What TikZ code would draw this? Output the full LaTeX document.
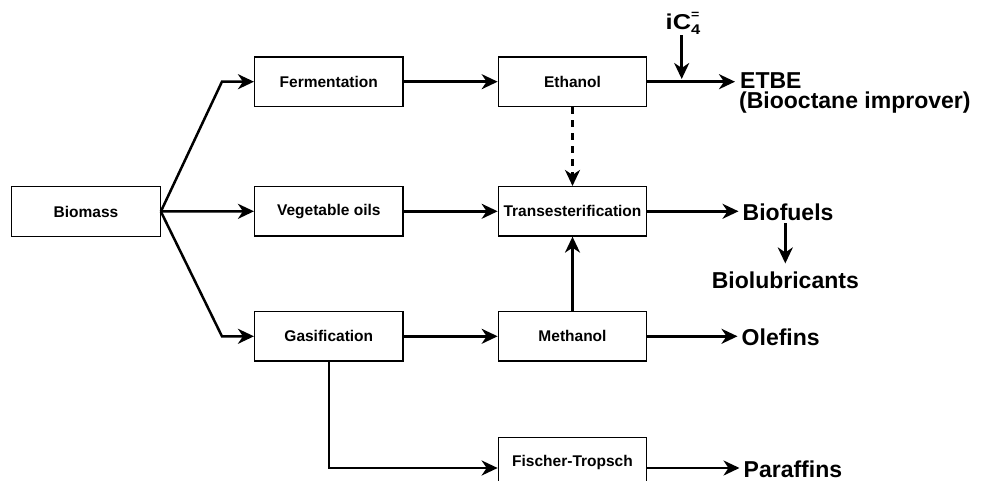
\documentclass[tikz,border=0pt]{standalone}
\usepackage{fontspec}
\setmainfont{Liberation Sans}
\newfontfamily\widefont[FakeStretch=1.18]{Liberation Sans}
\usetikzlibrary{arrows.meta}
\begin{document}
\begin{tikzpicture}[x=1pt,y=-1pt,
  box/.style={draw=black,line width=1.2pt,minimum width=148.5pt,minimum height=49.5pt,inner sep=0pt,font=\fontsize{15.5}{18}\selectfont\bfseries},
  lab/.style={inner xsep=4pt,inner ysep=0pt,anchor=base west,font=\fontsize{23}{20.5}\selectfont\bfseries},
  conn/.style={line width=2.5pt,-{Stealth[length=16pt,width=15pt,inset=5pt]}},
]
\useasboundingbox (0,0) rectangle (984,481);
% boxes
\node[box] (bio)   at (86,211.5)    {Biomass};
\node[box] (ferm)  at (328.8,81.7)  {Fermentation};
\node[box] (veg)   at (328.8,211.3) {Vegetable oils};
\node[box] (gas)   at (328.8,336.3) {Gasification};
\node[box] (eth)   at (572.5,81.7)  {Ethanol};
\node[box] (trans) at (572.5,211.3) {Transesterification};
\node[box] (meth)  at (572.5,336.3) {Methanol};
\node[box] (ft)    at (572.5,462.5) {Fischer-Tropsch};
% labels
\node[lab,align=left] (etbe) at (735,108.8) {\hspace*{1pt}ETBE\\(Biooctane improver)};
\node[lab] (bf)    at (738.5,220) {Biofuels};
\node[lab,anchor=base] (blub) at (785.3,288.3) {Biolubricants};
\node[lab] (ole)   at (737.5,345) {Olefins};
\node[lab] (par)   at (739.5,477.5) {Paraffins};
\node[anchor=base west,inner sep=0pt,font=\widefont\fontsize{21.5}{24}\selectfont\bfseries] (ic4) at (665.5,30)
  {iC\rlap{\raisebox{11pt}{\fontsize{12}{12}\selectfont =}}\raisebox{-5pt}{\fontsize{14}{14}\selectfont 4}};
% connectors
\draw[conn] (bio.east) -- ([xshift=-32pt]ferm.west) -- (ferm.west);
\draw[conn] (bio.east) -- (veg.west);
\draw[conn] (bio.east) -- ([xshift=-32pt]gas.west) -- (gas.west);
\draw[conn] (ferm.east) -- (eth.west);
\draw[conn] (veg.east) -- (trans.west);
\draw[conn] (gas.east) -- (meth.west);
\coordinate (ftin) at ([yshift=-5.5pt]ft.west);
\coordinate (ftout) at ([yshift=-5.5pt]ft.east);
\draw[conn] (gas.south) |- (ftin);
\draw[conn,dash pattern=on 7pt off 6pt] (eth.south) -- (trans.north);
\draw[conn] (meth.north) -- (trans.south);
\draw[conn] (eth.east) -- (eth.east -| etbe.west);
\draw[conn] (trans.east) -- (trans.east -| bf.west);
\draw[conn] (meth.east) -- (meth.east -| ole.west);
\draw[conn] (ftout) -- (ftout -| par.west);
\coordinate (j) at (681.7,79);
\draw[conn] (ic4.south -| j) -- (j);
\draw[conn,shorten <=3pt,shorten >=8pt] (bf.south -| blub.north) -- (blub.north);
\end{tikzpicture}
\end{document}
